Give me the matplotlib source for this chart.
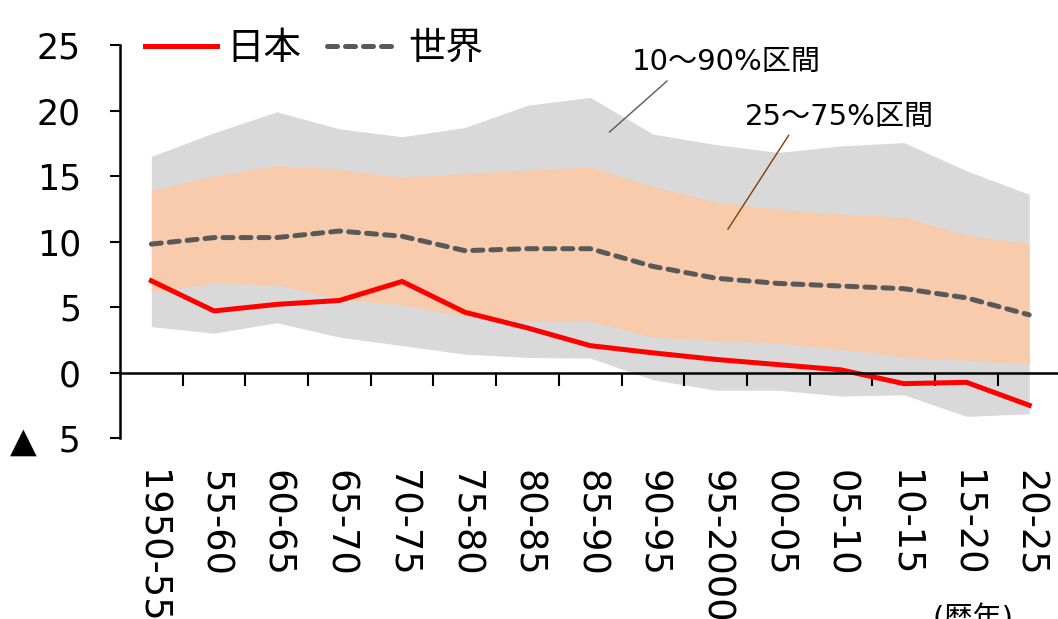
import numpy as np
import matplotlib
matplotlib.use("Agg")
import matplotlib.pyplot as plt

plt.rcParams['font.family'] = ['DejaVu Sans', 'Noto Sans CJK JP']

# data
periods = ['1950-55', '55-60', '60-65', '65-70', '70-75', '75-80', '80-85', '85-90',
           '90-95', '95-2000', '00-05', '05-10', '10-15', '15-20', '20-25']
japan = [7.0, 4.7, 5.2, 5.5, 6.95, 4.6, 3.4, 2.05, 1.5, 1.0, 0.6, 0.2, -0.85, -0.75, -2.5]
world = [9.8, 10.3, 10.3, 10.8, 10.4, 9.3, 9.45, 9.45, 8.1, 7.2, 6.8, 6.6, 6.4, 5.7, 4.4]
p90 = [16.5, 18.3, 19.9, 18.6, 18.0, 18.7, 20.4, 21.0, 18.2, 17.4, 16.8, 17.3, 17.55, 15.4, 13.6]
p75 = [13.9, 15.0, 15.8, 15.5, 14.9, 15.2, 15.45, 15.7, 14.2, 13.0, 12.45, 12.1, 11.85, 10.5, 9.85]
p25 = [6.15, 6.8, 6.7, 5.6, 5.15, 4.3, 3.9, 3.9, 2.7, 2.45, 2.25, 1.75, 1.2, 0.9, 0.65]
p10 = [3.5, 3.0, 3.8, 2.7, 2.05, 1.4, 1.15, 1.1, -0.55, -1.35, -1.35, -1.8, -1.7, -3.35, -3.15]
yticks = [-5, 0, 5, 10, 15, 20, 25]
ytick_labels = ['▲  5', '0', '5', '10', '15', '20', '25']

x = np.arange(len(periods))

fig = plt.figure(figsize=(10.58, 6.19), dpi=100)
ax = fig.add_axes([0.1134, 0.2924, 0.889, 0.6349])

ax.fill_between(x, p10, p90, color='#D9D9D9', linewidth=0)
ax.fill_between(x, p25, p75, color='#F8CBAD', linewidth=0)
ax.plot(x, japan, color='#FF0000', lw=3.6, label='日本', solid_joinstyle='round')
ax.plot(x, world, color='#595959', lw=3.6, dashes=(2.0, 1.6), dash_capstyle='round',
        label='世界')

ax.set_xlim(-0.5, len(periods) - 0.5)
ax.set_ylim(-5, 25)
ax.set_yticks(yticks)
ax.set_yticklabels(ytick_labels)
ax.tick_params(axis='y', labelsize=25, length=7, width=1.5, pad=21, color='black')

# category axis drawn on the zero line
ax.spines['top'].set_visible(False)
ax.spines['right'].set_visible(False)
ax.spines['bottom'].set_position(('data', 0))
ax.spines['bottom'].set_linewidth(1.8)
ax.spines['left'].set_linewidth(1.8)
ax.set_xticks(x)
ax.set_xticklabels(periods, rotation=270, va='top', ha='center')
ax.set_xticks(x[:-1] + 0.5, minor=True)
ax.tick_params(axis='x', which='major', length=0, labelsize=26.5, pad=70)
ax.tick_params(axis='x', which='minor', length=9, width=1.5, direction='out')

ax.legend(loc='center left', bbox_to_anchor=(0.011, 0.99), ncol=2, fontsize=27,
          frameon=False, handlelength=1.9, handletextpad=0.25, columnspacing=0.7,
          borderaxespad=0)

ax.text(7.66, 23.7, '10～90%区間', fontsize=21, va='center', ha='left')
ax.annotate('', xy=(7.27, 18.2), xytext=(8.26, 22.4),
            arrowprops=dict(arrowstyle='-', color='#595959', lw=1))
ax.text(9.47, 19.5, '25～75%区間', fontsize=21, va='center', ha='left')
ax.annotate('', xy=(9.17, 10.75), xytext=(10.19, 18.3),
            arrowprops=dict(arrowstyle='-', color='#843C0C', lw=1))

fig.text(0.92, 0.0, '(暦年)', fontsize=21, ha='center', va='center')

fig.savefig('out.png', dpi=100)
